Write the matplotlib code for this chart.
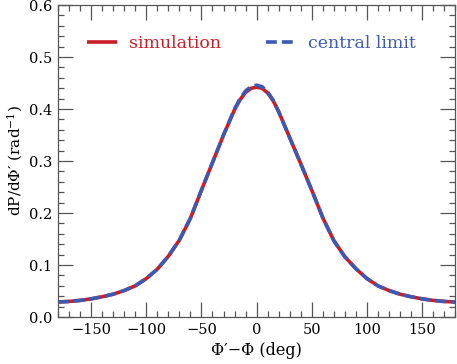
import numpy as np
import matplotlib
matplotlib.use('Agg')
import matplotlib.pyplot as plt
from matplotlib.ticker import MultipleLocator

# valores
phi = [-180, -170, -160, -150, -140, -130, -120, -110, -100, -90, -80, -70, -60, -50,
       -40, -30, -20, -15, -10, -5, 0, 5, 10, 15, 20, 30, 40, 50, 60, 70, 80, 90,
       100, 110, 120, 130, 140, 150, 160, 170, 180]
sim = [0.029, 0.030, 0.032, 0.035, 0.039, 0.044, 0.051, 0.060, 0.074, 0.092, 0.117,
       0.148, 0.190, 0.244, 0.297, 0.350, 0.399, 0.418, 0.432, 0.440, 0.442, 0.440,
       0.431, 0.416, 0.395, 0.345, 0.295, 0.244, 0.191, 0.147, 0.116, 0.093,
       0.074, 0.060, 0.051, 0.044, 0.039, 0.035, 0.032, 0.030, 0.029]
clt = [0.029, 0.030, 0.032, 0.035, 0.039, 0.044, 0.051, 0.060, 0.074, 0.092, 0.117,
       0.148, 0.190, 0.244, 0.297, 0.350, 0.400, 0.420, 0.435, 0.443, 0.446, 0.443,
       0.433, 0.417, 0.395, 0.345, 0.295, 0.244, 0.191, 0.147, 0.116, 0.093,
       0.074, 0.060, 0.051, 0.044, 0.039, 0.035, 0.032, 0.030, 0.029]

red = '#c81e28'
blue = '#3c5ab4'
gray = '#555555'

plt.rcParams['font.family'] = 'DejaVu Serif'
plt.rcParams['mathtext.fontset'] = 'dejavuserif'

fig = plt.figure(figsize=(4.57, 3.64), dpi=100)
ax = fig.add_axes([0.127, 0.129, 0.869, 0.857])

ax.plot(phi, sim, color=red, lw=2.6, label='simulation', solid_capstyle='butt')
ax.plot(phi, clt, color=blue, lw=2.6, dashes=(3.0, 1.4), label='central limit')

ax.set_xlim(-180, 180)
ax.set_ylim(0, 0.6)
ax.xaxis.set_major_locator(MultipleLocator(50))
ax.xaxis.set_minor_locator(MultipleLocator(10))
ax.yaxis.set_major_locator(MultipleLocator(0.1))
ax.yaxis.set_minor_locator(MultipleLocator(0.02))
ax.yaxis.set_major_formatter(matplotlib.ticker.FormatStrFormatter('%.1f'))

ax.tick_params(which='both', direction='in', top=True, right=True, color=gray, labelsize=10.5)
ax.tick_params(which='major', length=10.5, width=0.9, pad=4)
ax.tick_params(which='minor', length=4.5, width=0.9)
for s in ax.spines.values():
    s.set_color(gray)
    s.set_linewidth(0.9)

ax.set_xlabel("Φ′−Φ (deg)", fontsize=11.5, labelpad=4)
ax.set_ylabel("dP/dΦ′ (rad$^{-1}$)", fontsize=11)
ax.yaxis.set_label_coords(-0.083, 0.5)

leg = ax.legend(loc='center left', ncol=2, frameon=False, fontsize=12.5,
                handlelength=1.7, handletextpad=0.7, columnspacing=2.6,
                bbox_to_anchor=(0.073, 0.877), borderaxespad=0, borderpad=0)
for txt, c in zip(leg.get_texts(), [red, blue]):
    txt.set_color(c)

fig.savefig('out.png', dpi=100)
